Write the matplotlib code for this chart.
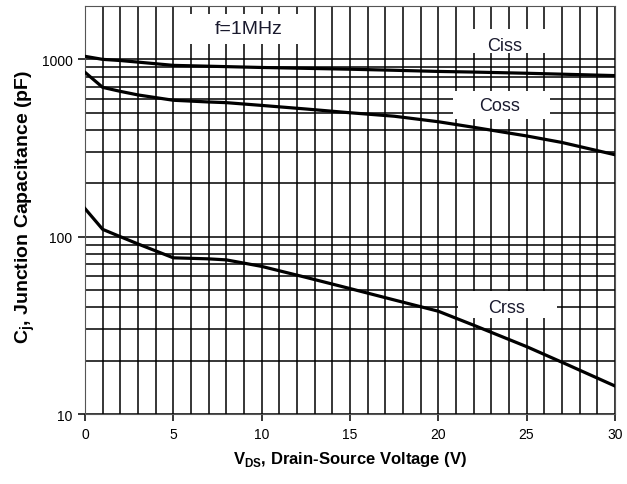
import matplotlib.pyplot as plt
from matplotlib.patches import Rectangle
from matplotlib.ticker import MultipleLocator, LogLocator, FixedLocator, NullFormatter

plt.rcParams['font.family'] = ['Liberation Sans', 'DejaVu Sans']
plt.rcParams['mathtext.fontset'] = 'custom'
plt.rcParams['mathtext.rm'] = 'Liberation Sans'
plt.rcParams['mathtext.bf'] = 'Liberation Sans:bold'

# capacitance vs drain-source voltage
vds = [0, 1, 2, 3, 5, 7, 8, 10, 12.5, 15, 17.5, 20, 22, 25, 27, 30]
ciss = [1040, 1000, 985, 965, 925, 915, 910, 900, 890, 880, 868, 855, 848, 835, 825, 810]
coss = [845, 695, 660, 630, 588, 575, 570, 550, 525, 500, 478, 445, 414, 370, 340, 290]
crss = [144, 110, 100, 91, 76, 75, 74, 68, 59, 51, 44, 38, 31.7, 24, 19.6, 14.4]

fig = plt.figure(figsize=(6.27, 4.85), dpi=100)
ax = fig.add_axes([0.1356, 0.1443, 0.845, 0.8413])

for y in (ciss, coss, crss):
    ax.plot(vds, y, color='black', lw=2.3, zorder=4)

ax.set_yscale('log')
ax.set_xlim(0, 30)
ax.set_ylim(10, 2000)
ax.xaxis.set_major_locator(MultipleLocator(5))
ax.xaxis.set_minor_locator(MultipleLocator(1))
ax.yaxis.set_major_locator(FixedLocator([10, 100, 1000]))
ax.yaxis.set_major_formatter(plt.FuncFormatter(lambda v, p: '%d' % v))
ax.yaxis.set_minor_locator(LogLocator(base=10, subs=range(2, 10)))
ax.yaxis.set_minor_formatter(NullFormatter())
ax.grid(which='both', color='black', lw=1.1)
ax.set_axisbelow(True)
ax.tick_params(which='major', direction='out', length=5, width=1.1, labelsize=10, pad=4)
ax.tick_params(which='minor', length=0)
for s in ax.spines.values():
    s.set_color('#555555')

ax.set_xlabel(r'V$_{\mathbf{DS}}$, Drain-Source Voltage (V)', fontsize=12, fontweight='bold', labelpad=6)
ax.set_ylabel(r'$\mathbf{C_j}$, Junction Capacitance (pF)', fontsize=14, fontweight='bold')
ax.yaxis.set_label_coords(-0.091, 0.51)

# white label boxes over the grid (axes fractions)
labels = ['f=1MHz', 'Ciss', 'Coss', 'Crss']
text_xy = [(0.309, 0.944), (0.792, 0.902), (0.783, 0.757), (0.796, 0.262)]
boxes = [(0.189, 0.907, 0.236, 0.073), (0.708, 0.885, 0.179, 0.059),
         (0.694, 0.723, 0.183, 0.069), (0.704, 0.235, 0.187, 0.066)]
sizes = [14, 13, 13, 13]
for lab, (tx, ty), (bx, by, bw, bh), fs in zip(labels, text_xy, boxes, sizes):
    ax.add_patch(Rectangle((bx, by), bw, bh, transform=ax.transAxes,
                           facecolor='white', edgecolor='none', zorder=2.5))
    ax.text(tx, ty, lab, transform=ax.transAxes, fontsize=fs, ha='center', va='center',
            color='#1a1a2e', zorder=3)

fig.savefig('out.png', dpi=100)
